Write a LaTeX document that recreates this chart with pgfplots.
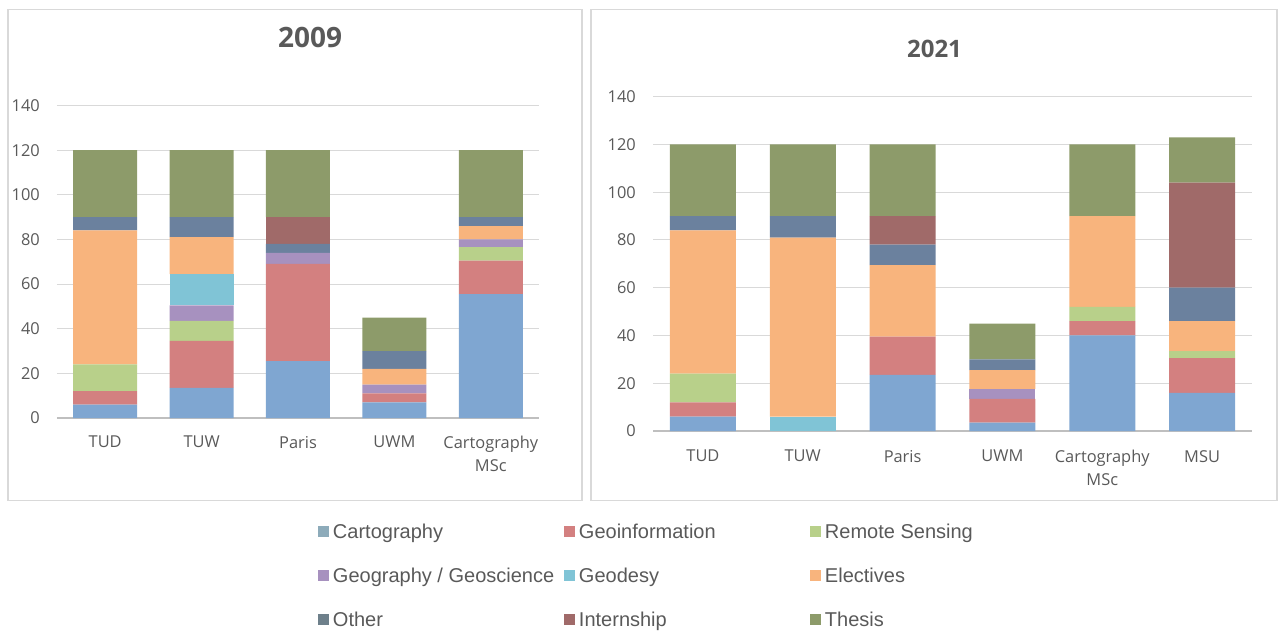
\documentclass[border=0pt]{standalone}
\usepackage{fontspec}
\setmainfont{Open Sans}
\newfontfamily\legfont{Liberation Sans}
\usepackage{pgfplots}
\usepackage{pgfplotstable}
\pgfplotsset{compat=1.18}

\definecolor{cCarto}{HTML}{7FA6D1}
\definecolor{cGeoinfo}{HTML}{D38080}
\definecolor{cRS}{HTML}{B8D08A}
\definecolor{cGeog}{HTML}{A791BF}
\definecolor{cGeod}{HTML}{80C4D6}
\definecolor{cElect}{HTML}{F8B47D}
\definecolor{cOther}{HTML}{6B819E}
\definecolor{cIntern}{HTML}{A06A69}
\definecolor{cThesis}{HTML}{8D9B6A}
\definecolor{lCarto}{HTML}{8DABBA}
\definecolor{lOther}{HTML}{6E808B}
\definecolor{txt}{HTML}{595959}
\definecolor{gridc}{HTML}{D9D9D9}
\definecolor{axc}{HTML}{BFBFBF}
\definecolor{panelc}{HTML}{D9D9D9}

% 2009: TUD, TUW, Paris, UWM, Cartography MSc
\pgfplotstableread{
x carto geoinfo rs geog geod elect other intern thesis
0 6    6    12 0   0  60   6   0  30
1 13.5 21   9  7   14 16.5 9   0  30
2 25.5 43.5 0  5   0  0    4   12 30
3 7    4    0  4   0  7    8   0  15
4 55.5 15   6  3.5 0  6    4   0  30
}\dataA

% 2021: TUD, TUW, Paris, UWM, Cartography MSc, MSU
\pgfplotstableread{
x carto geoinfo rs geog geod elect other intern thesis
0 6    6    12 0 0 60   6   0  30
1 0    0    0  0 6 75   9   0  30
2 23.5 16   0  0 0 30   8.5 12 30
3 3.5  10   0  4 0 8    4.5 0  15
4 40   6    6  0 0 38   0   0  30
5 16   14.5 3  0 0 12.5 14  44 19
}\dataB

\pgfplotsset{
  panel/.style={
    ybar stacked, scale only axis,
    ymin=0, ymax=140, ytick={0,20,...,140},
    xmin=-0.5,
    axis line style={draw=none}, major tick length=0pt,
    ymajorgrids, grid style={color=gridc, line width=1pt},
    extra y ticks={0}, extra y tick labels={},
    extra y tick style={major grid style={color=axc, line width=1.5pt}},
    /pgf/number format/assume math mode=true,
    tick label style={font=\fontsize{16.4}{23}\selectfont, text=txt},
    yticklabel style={inner sep=0pt, anchor=east, xshift=-17pt},
    xticklabel style={inner sep=0pt, anchor=north, align=center},
  },
}

\begin{document}
\begin{tikzpicture}[x=1pt,y=1pt]
\path (0,0) rectangle (1278,630);
\draw[color=panelc, line width=1.5pt] (7.75,129.5) rectangle (581.75,620.25);
\draw[color=panelc, line width=1.5pt] (590.75,129.5) rectangle (1276.75,620.25);
\node[font=\fontsize{28}{30}\selectfont\bfseries, text=txt] at (310,593) {2009};
\node[font=\fontsize{24}{26}\selectfont\bfseries, text=txt] at (934.5,581.5) {2021};

\begin{axis}[panel, at={(57pt,212pt)}, anchor=south west,
  width=482pt, height=312.5pt, xmax=4.5, bar width=64pt,
  xtick={0,1,2,3,4},
  xticklabels={TUD,TUW,Paris,UWM,{Cartography\\MSc}},
  xticklabel style={yshift=-18pt}]
\addplot[fill=cCarto, draw=none] table[x=x, y=carto] {\dataA};
\addplot[fill=cGeoinfo, draw=none] table[x=x, y=geoinfo] {\dataA};
\addplot[fill=cRS, draw=none] table[x=x, y=rs] {\dataA};
\addplot[fill=cGeog, draw=none] table[x=x, y=geog] {\dataA};
\addplot[fill=cGeod, draw=none] table[x=x, y=geod] {\dataA};
\addplot[fill=cElect, draw=none] table[x=x, y=elect] {\dataA};
\addplot[fill=cOther, draw=none] table[x=x, y=other] {\dataA};
\addplot[fill=cIntern, draw=none] table[x=x, y=intern] {\dataA};
\addplot[fill=cThesis, draw=none] table[x=x, y=thesis] {\dataA};
\end{axis}

\begin{axis}[panel, at={(653pt,199pt)}, anchor=south west,
  width=599pt, height=334.3pt, xmax=5.5, bar width=66pt,
  xtick={0,1,2,3,4,5},
  xticklabels={TUD,TUW,Paris,UWM,{Cartography\\MSc},MSU},
  xticklabel style={yshift=-19pt},
  legend image code/.code={\fill[#1] (0pt,-4pt) rectangle (11pt,7pt);},
  legend columns=3, legend cell align=left,
  legend style={at={(axis description cs:-0.5593,-0.2767)}, anchor=north west,
    draw=none, fill=none, inner sep=0pt, outer sep=0pt, row sep=25pt,
    nodes={inner sep=0pt, text height=14.5pt, text depth=4.5pt,
      font=\legfont\fontsize{20}{24}\selectfont, text=txt},
    /tikz/every odd column/.append style={column sep=4pt}}]
\addlegendimage{fill=lCarto, draw=none}
\addlegendentry{\makebox[231pt][l]{Cartography}}
\addlegendimage{fill=cGeoinfo, draw=none}
\addlegendentry{\makebox[231pt][l]{Geoinformation}}
\addlegendimage{fill=cRS, draw=none}
\addlegendentry{\makebox[231pt][l]{Remote Sensing}}
\addlegendimage{fill=cGeog, draw=none}
\addlegendentry{\makebox[231pt][l]{Geography / Geoscience}}
\addlegendimage{fill=cGeod, draw=none}
\addlegendentry{\makebox[231pt][l]{Geodesy}}
\addlegendimage{fill=cElect, draw=none}
\addlegendentry{\makebox[231pt][l]{Electives}}
\addlegendimage{fill=lOther, draw=none}
\addlegendentry{\makebox[231pt][l]{Other}}
\addlegendimage{fill=cIntern, draw=none}
\addlegendentry{\makebox[231pt][l]{Internship}}
\addlegendimage{fill=cThesis, draw=none}
\addlegendentry{\makebox[231pt][l]{Thesis}}
\addplot[fill=cCarto, draw=none] table[x=x, y=carto] {\dataB};
\addplot[fill=cGeoinfo, draw=none] table[x=x, y=geoinfo] {\dataB};
\addplot[fill=cRS, draw=none] table[x=x, y=rs] {\dataB};
\addplot[fill=cGeog, draw=none] table[x=x, y=geog] {\dataB};
\addplot[fill=cGeod, draw=none] table[x=x, y=geod] {\dataB};
\addplot[fill=cElect, draw=none] table[x=x, y=elect] {\dataB};
\addplot[fill=cOther, draw=none] table[x=x, y=other] {\dataB};
\addplot[fill=cIntern, draw=none] table[x=x, y=intern] {\dataB};
\addplot[fill=cThesis, draw=none] table[x=x, y=thesis] {\dataB};
\end{axis}
\end{tikzpicture}
\end{document}
